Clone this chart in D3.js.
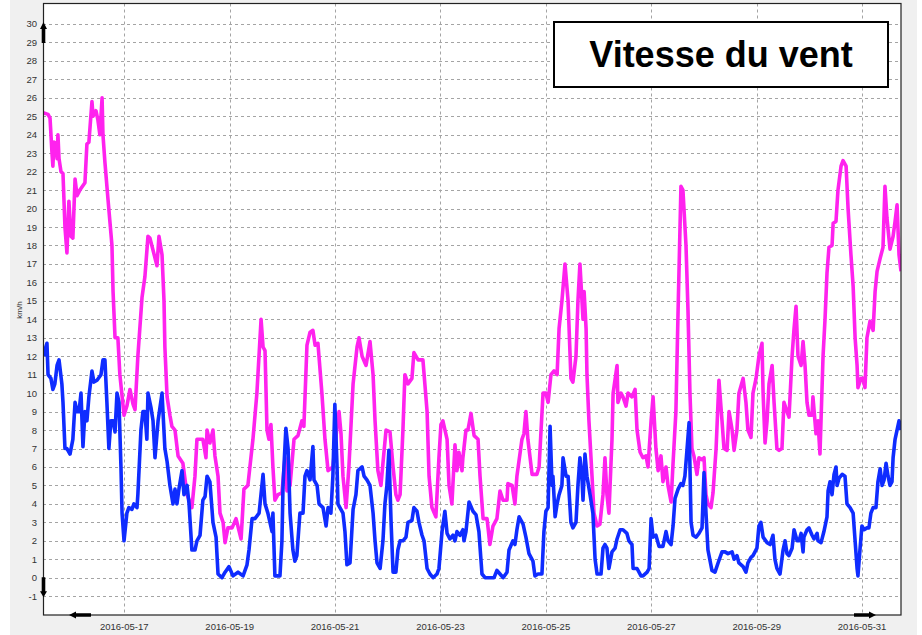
<!DOCTYPE html>
<html>
<head>
<meta charset="utf-8">
<script src="https://cdn.jsdelivr.net/npm/d3@7"></script>
<style>
  body { margin: 0; background: #fff; }
  svg { display: block; font-family: "Liberation Sans", Arial, sans-serif; }
</style>
</head>
<body>
<div id="vis"></div>
<script>
// hours counted from 2016-05-15 00:00
var gustHours = [11.0,13.3,14.2,15.1,15.5,16.0,16.9,17.4,17.8,18.3,19.2,20.1,21.0,21.9,22.8,23.7,24.6,25.6,26.5,27.8,30.1,31.0,31.9,33.3,33.8,35.1,36.0,36.9,37.9,38.3,39.2,40.6,42.4,42.9,43.8,45.1,46.0,47.9,49.2,50.6,52.0,52.9,54.2,56.1,57.4,58.8,59.7,62.9,63.8,65.2,66.1,66.5,67.5,68.8,69.7,71.1,72.5,74.7,76.6,78.8,80.2,81.1,83.8,85.2,85.7,87.0,88.4,89.3,90.7,91.6,93.0,93.9,95.2,97.1,98.9,101.2,102.5,104.3,106.6,108.4,110.3,111.2,112.1,113.0,113.9,114.8,115.7,116.6,118.0,119.8,121.2,122.1,123.5,125.3,127.1,128.9,129.8,131.2,132.6,133.9,134.9,136.2,138.0,139.4,140.8,143.0,144.9,145.8,146.7,147.6,149.0,150.3,152.2,154.0,154.9,156.3,158.1,159.9,161.3,162.2,163.5,164.9,165.8,167.2,169.0,170.4,171.7,172.6,173.6,174.9,175.8,177.2,179.0,179.9,181.8,184.0,185.9,186.8,188.1,189.9,191.3,192.2,193.1,195.0,195.9,197.2,198.6,199.5,200.4,201.8,202.2,203.6,204.5,205.9,207.3,209.1,210.0,211.4,213.2,214.5,215.9,217.7,219.1,220.5,222.3,222.7,224.6,225.9,226.8,229.1,230.0,230.9,231.8,233.7,235.9,236.9,238.7,240.0,241.0,242.3,243.7,245.1,246.0,247.3,248.7,250.1,251.4,252.3,253.7,254.6,255.5,256.9,257.4,258.3,258.7,259.6,261.0,261.9,263.3,264.6,266.0,266.9,267.8,268.7,270.1,270.6,272.4,272.8,274.2,275.1,276.5,277.4,279.2,280.6,281.5,282.9,284.2,285.6,286.5,287.9,288.8,290.1,291.1,292.4,293.3,294.7,295.6,297.0,297.9,299.2,300.2,301.5,302.4,303.8,304.7,305.6,306.5,307.4,308.8,309.7,311.1,312.0,312.9,313.8,315.2,316.1,317.5,318.8,320.2,321.1,322.5,323.4,324.8,325.7,327.0,327.9,329.8,331.1,332.0,333.4,334.3,335.7,337.0,338.4,338.9,339.8,340.7,341.6,343.0,343.9,345.2,346.2,347.5,348.4,349.8,350.7,352.1,353.0,353.9,354.8,356.2,357.1,358.0,358.9,359.8,361.2,361.6,363.0,363.9,364.8,366.2,367.1,368.0,368.9,370.3,370.8,372.1,373.0,374.4,375.3,376.7,377.6,378.9,379.9,380.8,381.7,382.1,383.5,384.4,385.3,386.2,387.6,389.0,389.9,390.8,392.2,393.5,394.4,395.3,396.7,398.1,399.0,399.9,400.8,401.7];
var gustKmh = [25.2,25.1,24.9,23.0,22.3,23.6,23.5,22.7,24.0,22.7,22.0,21.9,19.0,17.6,20.4,18.5,18.4,21.6,20.7,21.0,21.4,23.5,23.6,25.8,25.0,25.3,24.8,24.0,26.0,24.0,22.5,20.5,18.0,15.5,13.0,13.0,11.0,8.8,9.3,10.2,9.4,9.1,12.0,15.2,16.3,18.5,18.4,16.9,18.5,17.5,15.0,12.5,9.8,8.8,8.2,8.0,6.6,6.2,4.5,3.8,5.5,7.5,7.5,6.5,8.0,7.3,8.0,6.6,5.5,3.5,3.0,1.9,2.7,2.7,3.2,2.1,4.8,5.0,7.5,10.0,14.0,12.5,12.3,8.0,7.5,8.3,6.0,4.2,4.5,4.6,6.5,4.7,5.0,7.5,7.7,8.5,8.2,12.6,13.3,13.4,12.6,12.7,10.0,7.5,5.8,6.0,8.2,9.0,7.8,5.5,3.8,6.0,10.5,12.5,13.0,12.0,11.5,12.8,11.0,8.5,5.8,5.0,6.2,8.0,7.9,6.0,4.5,4.2,4.5,8.0,11.0,10.5,10.8,12.2,11.8,11.8,9.0,5.5,3.8,3.3,6.5,8.3,8.5,7.5,5.0,4.0,7.2,5.8,6.8,5.8,6.5,8.0,8.0,8.9,7.7,7.5,5.5,3.2,3.2,1.8,2.8,3.2,4.7,4.2,4.2,5.1,5.0,4.0,5.5,7.5,7.8,9.0,7.5,5.6,5.6,6.0,10.0,10.0,9.5,11.0,11.2,11.0,13.5,15.0,17.0,15.0,10.8,10.6,12.0,15.0,17.0,14.0,15.5,13.5,11.0,8.5,5.5,3.5,2.8,2.9,4.5,6.5,4.5,3.5,7.5,10.0,11.5,9.5,10.0,9.8,9.3,10.0,9.8,10.2,8.0,6.8,6.5,6.6,6.0,8.5,9.8,7.0,5.8,6.6,5.2,6.0,5.0,4.1,6.2,9.0,14.5,21.2,21.0,18.0,14.5,10.0,7.0,6.6,5.6,6.5,6.4,6.5,4.5,4.0,3.8,4.6,7.0,10.7,8.5,7.0,6.9,9.0,8.0,6.9,8.0,10.0,10.8,9.5,8.0,7.6,10.0,10.8,12.0,12.7,10.0,7.3,8.5,10.5,11.5,9.5,7.0,6.9,7.0,9.5,9.0,8.7,12.0,13.5,14.7,12.0,11.5,12.8,11.5,9.5,8.8,8.8,9.8,7.8,8.5,6.7,12.0,14.0,16.5,17.9,18.0,19.2,19.3,21.0,22.3,22.6,22.3,20.0,17.5,15.8,13.0,11.5,10.3,10.8,10.8,10.3,13.0,13.9,13.4,15.5,16.6,17.3,17.9,21.2,19.5,17.8,18.5,19.3,20.2,17.5,16.6];

var windHours = [11.4,12.3,12.8,13.3,14.6,15.5,16.4,17.4,18.3,19.6,20.1,21.0,21.9,23.3,24.6,25.6,26.5,27.4,28.3,29.2,30.1,31.0,31.9,33.3,34.2,35.6,37.4,38.3,39.2,40.1,41.0,41.9,42.9,43.8,44.7,45.6,46.5,47.0,47.9,49.2,50.1,51.5,52.4,53.8,54.2,55.6,56.5,57.4,58.3,58.8,60.2,61.1,62.0,63.4,65.2,66.5,67.5,68.8,70.2,71.1,72.0,72.9,74.3,75.2,76.6,77.5,78.8,80.2,81.1,82.5,83.8,84.8,85.7,87.0,88.4,89.8,90.7,92.5,93.9,95.7,97.5,99.8,102.1,103.9,104.8,106.2,107.5,109.4,111.2,112.1,113.4,115.3,115.7,116.6,118.9,119.8,120.3,121.6,122.6,123.5,124.8,125.7,126.6,128.0,129.4,130.3,131.2,132.6,133.9,134.4,135.8,136.7,138.5,139.9,140.8,142.1,143.0,143.9,144.9,145.3,146.2,147.6,148.5,149.4,150.8,152.2,153.5,154.4,156.3,157.2,158.5,159.9,161.3,162.2,163.1,164.5,165.8,166.7,167.6,168.5,169.5,170.4,171.7,172.6,173.6,174.9,176.3,177.2,179.0,179.9,181.3,182.2,183.6,184.5,185.9,187.2,188.6,190.4,191.3,192.7,194.0,195.0,196.3,197.7,198.6,199.5,200.9,202.2,202.7,203.6,205.0,206.8,208.2,209.5,210.9,212.3,214.5,216.4,217.7,219.1,220.5,222.3,223.2,225.0,225.9,226.8,227.8,229.6,230.9,232.3,234.1,235.0,236.4,238.2,239.1,240.0,241.0,241.9,242.8,243.2,244.2,245.1,246.0,247.3,247.8,249.2,250.1,251.4,252.3,253.7,254.6,255.5,256.4,256.9,257.8,258.7,260.1,261.4,262.4,263.3,265.1,266.0,266.9,267.8,268.7,270.1,271.5,272.4,273.8,275.1,276.9,277.8,279.2,279.7,281.5,283.3,284.2,286.1,287.0,287.9,288.8,290.1,291.5,293.3,294.7,295.6,297.0,297.9,298.8,300.2,301.5,302.4,303.3,304.3,305.2,306.1,307.0,308.4,309.7,311.1,312.0,312.9,313.8,315.6,317.0,318.4,320.2,321.6,322.9,324.8,325.7,327.0,327.9,329.8,331.1,332.0,333.4,334.3,336.1,337.0,337.9,338.9,340.7,342.1,343.4,344.3,345.2,346.6,348.0,348.9,349.8,350.7,352.1,353.0,354.4,355.3,356.2,357.1,357.5,358.9,359.8,361.2,362.1,363.5,363.9,365.3,366.6,368.0,368.5,369.4,370.3,371.2,372.1,372.6,373.5,374.9,376.2,377.1,378.5,379.9,380.8,381.7,382.1,383.0,383.9,384.9,386.2,387.1,388.0,389.0,390.3,391.2,392.2,393.1,394.0,394.9,395.8,396.7,397.6,398.1,399.0,399.9,400.8,401.7];
var windKmh = [12.0,12.5,12.7,11.0,10.8,10.2,10.5,11.5,11.8,10.5,9.5,7.0,7.0,6.7,7.5,9.5,9.0,9.0,10.0,7.1,9.0,8.5,9.8,11.2,10.6,10.7,11.0,11.8,11.8,9.5,7.0,8.5,8.5,7.9,10.0,9.5,6.0,3.5,2.0,3.5,3.8,3.7,4.0,3.8,4.5,8.0,9.0,9.0,7.5,10.0,9.2,8.5,6.5,8.5,10.0,7.0,6.3,5.0,4.0,4.8,4.0,4.8,5.8,4.5,5.0,4.0,1.5,1.5,2.0,2.3,4.2,4.4,5.5,5.2,3.0,2.2,0.2,0.0,0.3,0.6,0.1,0.3,0.1,0.7,1.5,3.2,3.2,3.5,5.6,4.0,3.5,2.5,3.5,0.1,0.1,2.0,5.0,8.1,7.0,3.5,1.5,0.9,1.2,3.5,3.5,5.5,5.8,5.3,7.1,5.3,5.0,4.0,3.8,2.8,3.8,3.5,5.5,9.4,6.0,4.0,3.8,3.5,2.5,0.7,0.8,3.7,4.5,5.8,6.0,5.5,5.3,5.0,3.5,2.0,0.8,0.5,2.0,4.0,5.0,6.9,3.0,0.3,0.3,1.5,2.0,2.0,2.2,3.0,3.1,3.8,3.6,3.0,2.3,2.0,0.5,0.2,0.0,0.2,0.5,2.5,3.6,2.4,2.1,2.3,2.0,2.5,2.3,2.6,2.0,2.5,4.1,3.6,3.4,2.5,0.2,0.0,0.0,0.0,0.4,0.2,0.0,0.3,1.5,2.0,1.8,2.6,3.3,2.9,2.2,1.3,0.9,0.1,0.2,0.2,2.5,3.6,3.8,8.2,5.0,5.5,3.3,4.0,4.5,5.0,6.5,5.5,5.5,3.0,2.7,3.0,5.0,6.5,5.5,4.2,6.7,5.5,4.5,3.5,1.0,0.2,0.2,1.6,1.8,1.6,0.5,1.4,1.6,2.1,2.6,2.6,2.4,2.0,1.8,0.5,0.5,0.1,0.1,0.3,0.5,3.2,2.2,2.3,1.7,1.7,2.5,2.0,1.8,2.8,4.3,4.8,5.1,5.0,5.5,7.0,8.4,3.0,2.3,2.2,2.4,2.7,5.7,3.5,1.5,0.4,0.3,0.8,1.4,1.4,1.3,1.4,1.0,1.2,0.8,0.6,0.3,0.8,1.1,1.2,1.6,2.8,3.0,2.2,1.9,1.8,2.3,1.0,0.5,0.2,1.5,2.0,1.3,1.2,1.6,2.6,2.0,2.0,2.4,1.4,2.2,2.6,2.7,2.3,2.1,2.4,2.0,1.9,2.5,3.3,4.7,5.2,4.5,5.6,6.0,5.0,5.4,5.6,5.5,4.0,3.8,3.5,2.0,0.5,0.1,1.5,2.8,2.6,2.7,2.7,3.5,3.8,3.8,5.2,5.9,5.0,5.3,6.2,5.5,5.0,5.2,6.5,7.5,8.0,8.5,8.0];

var yTicks = d3.range(-1, 31);
var chartTitle = "Vitesse du vent";
var yTitle = "km/h";

var width = 922, height = 635;
var plot = { left: 43, right: 901, top: 3.5, bottom: 615 };
var base = Date.UTC(2016, 4, 15);
function toDate(h) { return new Date(base + h * 3600000); }

var x = d3.scaleUtc()
  .domain([toDate(11.0), toDate(401.7)])
  .range([plot.left, plot.right]);
var y = d3.scaleLinear()
  .domain([-2.02, 31.11])
  .range([plot.bottom, plot.top]);

var svg = d3.select('#vis').append('svg')
  .attr('width', width)
  .attr('height', height);

// grey panel behind the plot
svg.append('rect')
  .attr('x', 10).attr('y', 0)
  .attr('width', 907).attr('height', height)
  .attr('fill', '#f0f0f0');

svg.append('rect')
  .attr('x', plot.left).attr('y', plot.top)
  .attr('width', plot.right - plot.left).attr('height', plot.bottom - plot.top)
  .attr('fill', '#fff');

var grid = svg.append('g')
  .attr('stroke', '#a4a4a4')
  .attr('stroke-width', 1)
  .attr('stroke-dasharray', '3,3');

grid.selectAll('.hgrid')
  .data(yTicks)
  .enter().append('line')
  .attr('x1', plot.left).attr('x2', plot.right)
  .attr('y1', d => Math.round(y(d)) + 0.5)
  .attr('y2', d => Math.round(y(d)) + 0.5);

var xTicks = x.ticks(d3.utcDay.every(2));
grid.selectAll('.vgrid')
  .data(xTicks)
  .enter().append('line')
  .attr('y1', plot.top).attr('y2', plot.bottom)
  .attr('x1', d => Math.round(x(d)) + 0.5)
  .attr('x2', d => Math.round(x(d)) + 0.5);

// y labels
svg.append('g')
  .selectAll('text')
  .data(yTicks)
  .enter().append('text')
  .attr('x', 37)
  .attr('y', d => y(d) + 3.5)
  .attr('text-anchor', 'end')
  .attr('font-size', 9.5)
  .attr('fill', '#333')
  .text(d => d);

// x labels (two lines, the hour line is cut by the bottom edge as in the source)
var fmtDay = d3.utcFormat('%Y-%m-%d');
var fmtHour = d3.utcFormat('%H:%M');
var xl = svg.append('g')
  .selectAll('g')
  .data(xTicks)
  .enter().append('g');
xl.append('text')
  .attr('x', d => x(d))
  .attr('y', 630)
  .attr('text-anchor', 'middle')
  .attr('font-size', 9.5)
  .attr('fill', '#333')
  .text(fmtDay);
xl.append('text')
  .attr('x', d => x(d))
  .attr('y', 641)
  .attr('text-anchor', 'middle')
  .attr('font-size', 9.5)
  .attr('fill', '#333')
  .text(fmtHour);

svg.append('text')
  .attr('transform', 'translate(22,310) rotate(-90)')
  .attr('text-anchor', 'middle')
  .attr('font-size', 8)
  .attr('fill', '#333')
  .text(yTitle);

// series
svg.append('clipPath').attr('id', 'clip')
  .append('rect')
  .attr('x', plot.left).attr('y', plot.top)
  .attr('width', plot.right - plot.left).attr('height', plot.bottom - plot.top);

var line = d3.line()
  .x(d => x(toDate(d[0])))
  .y(d => y(d[1]));

var series = [
  { hours: gustHours, values: gustKmh, colour: '#ff22ee' },
  { hours: windHours, values: windKmh, colour: '#0f2cff' }
];

svg.append('g')
  .attr('clip-path', 'url(#clip)')
  .selectAll('path')
  .data(series)
  .enter().append('path')
  .attr('fill', 'none')
  .attr('stroke', d => d.colour)
  .attr('stroke-width', 3.6)
  .attr('stroke-linejoin', 'round')
  .attr('d', d => line(d.hours.map((h, i) => [h, d.values[i]])));

// frame
svg.append('rect')
  .attr('x', plot.left + 0.5).attr('y', plot.top)
  .attr('width', plot.right - plot.left - 0.5).attr('height', plot.bottom - plot.top)
  .attr('fill', 'none')
  .attr('stroke', '#222')
  .attr('stroke-width', 1.2);

// scroll arrows
var arrows = svg.append('g').attr('fill', '#000');
var ax = plot.left + 0.5;
var yTop = y(30), yBot = y(-1);
arrows.append('path')
  .attr('d', 'M' + (ax - 1.8) + ',' + (yTop + 19) + 'V' + (yTop + 5) + 'H' + (ax - 3.5) +
    'L' + ax + ',' + (yTop - 2) + 'L' + (ax + 3.5) + ',' + (yTop + 5) + 'H' + (ax + 1.8) + 'V' + (yTop + 19) + 'Z');
arrows.append('path')
  .attr('d', 'M' + (ax - 1.8) + ',' + (yBot - 19) + 'V' + (yBot - 5) + 'H' + (ax - 3.5) +
    'L' + ax + ',' + (yBot + 1) + 'L' + (ax + 3.5) + ',' + (yBot - 5) + 'H' + (ax + 1.8) + 'V' + (yBot - 19) + 'Z');
var by = plot.bottom;
arrows.append('path')
  .attr('d', 'M91,' + (by - 1.8) + 'H76V' + (by - 3.5) + 'L69,' + by + 'L76,' + (by + 3.5) + 'V' + (by + 1.8) + 'H91Z');
arrows.append('path')
  .attr('d', 'M854,' + (by - 1.8) + 'H869V' + (by - 3.5) + 'L876,' + by + 'L869,' + (by + 3.5) + 'V' + (by + 1.8) + 'H854Z');

// title box
svg.append('rect')
  .attr('x', 554).attr('y', 22)
  .attr('width', 334).attr('height', 65)
  .attr('fill', '#fff')
  .attr('stroke', '#000')
  .attr('stroke-width', 2);
svg.append('text')
  .attr('x', 721).attr('y', 67)
  .attr('text-anchor', 'middle')
  .attr('font-size', 36)
  .attr('font-weight', 'bold')
  .attr('fill', '#000')
  .text(chartTitle);
</script>
</body>
</html>
